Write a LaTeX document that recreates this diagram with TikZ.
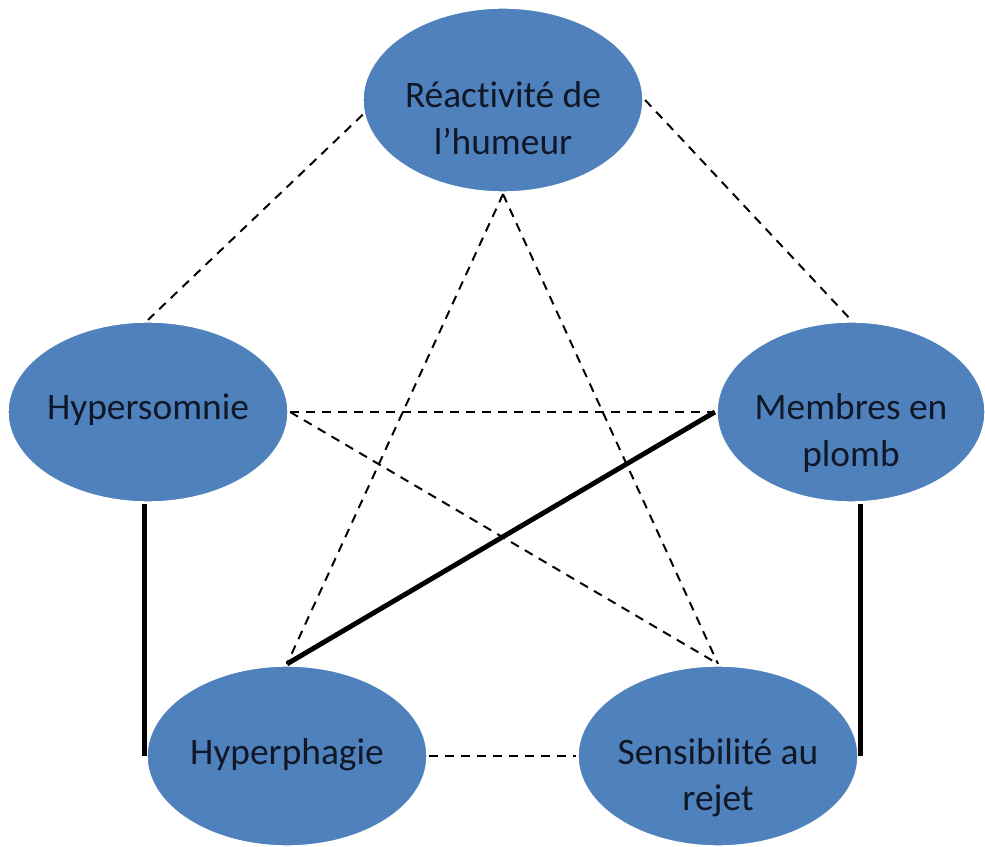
\documentclass[tikz,border=0pt]{standalone}
\usepackage{fontspec}
\setmainfont{Carlito}[Ligatures=NoCommon]
\usetikzlibrary{shapes.geometric}
\definecolor{ovalblue}{RGB}{79,129,189}
\definecolor{ovalink}{RGB}{16,24,40}
\newcommand{\ovallabel}[1]{\makebox[0pt]{\raisebox{-0.2cm}[0pt][0pt]{\begin{tabular}[t]{@{}c@{}}#1\end{tabular}}}}
\tikzset{
	oval/.style={ellipse, fill=ovalblue, draw=white, line width=1pt, minimum width=7cm, minimum height=4.5cm, inner sep=0pt, outer sep=1.5pt, text=ovalink, font=\fontsize{26.6}{33.4}\selectfont},
	weak/.style={line width=1.4pt, dash pattern=on 6.4pt off 5pt},
	strong/.style={line width=3.5pt}
}
\begin{document}
\begin{tikzpicture}
	\useasboundingbox (0,0) rectangle (24.625,21.15);
	\node[oval, minimum height=4.6cm] (reac) at (12.575,18.65) {\ovallabel{Réactivité de\\l’humeur}};
	\node[oval] (hyso) at (3.7,10.85) {\ovallabel{Hypersomnie}};
	\node[oval, minimum width=6.7cm] (memb) at (21.275,10.85) {\ovallabel{Membres en\\plomb}};
	\node[oval] (hyph) at (7.175,2.25) {\ovallabel{Hyperphagie}};
	\node[oval] (sens) at (17.95,2.25) {\ovallabel{Sensibilité au\\rejet}};
	% dashed links
	\draw[weak] (reac.186) -- (hyso.north);
	\draw[weak] (reac.east) -- (memb.north);
	\draw[weak] (reac.south) -- (hyph.north);
	\draw[weak] (reac.south) -- (sens.north);
	\draw[weak] (hyso.east) -- (memb.west);
	\draw[weak] (hyso.east) -- (sens.north);
	\draw[weak] (hyph.east) -- (sens.west);
	% solid links
	\draw[strong] (hyph.north) -- (memb.west);
	\draw[strong] (hyph.west) -- (hyph.west |- hyso.south);
	\draw[strong] (sens.east) -- (sens.east |- memb.south);
\end{tikzpicture}
\end{document}
